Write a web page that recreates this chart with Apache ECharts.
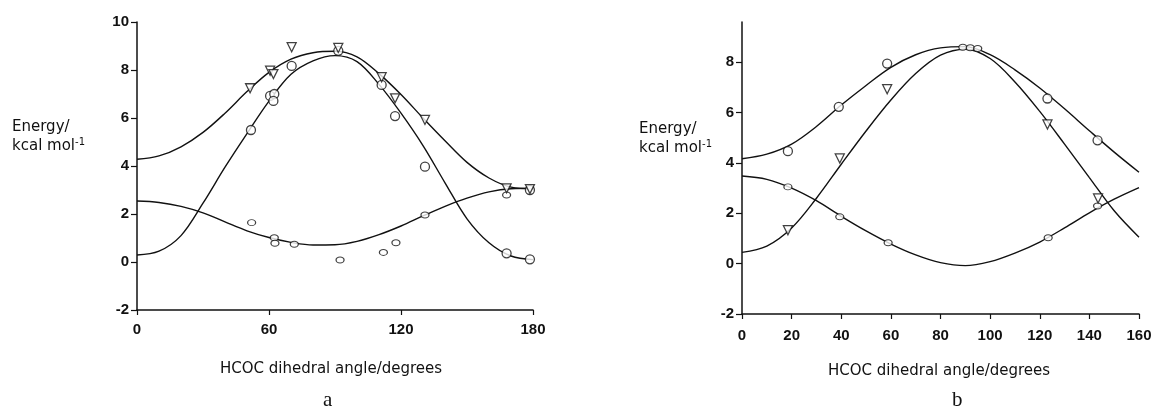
<!DOCTYPE html>
<html>
<head>
<meta charset="utf-8">
<script src="https://cdn.jsdelivr.net/npm/echarts@6/dist/echarts.min.js"></script>
<style>
html,body{margin:0;padding:0;background:#fff;}
#chart{width:1156px;height:414px;}
</style>
</head>
<body>
<div id="chart"></div>
<script>
// ---------- Panel a ----------
const anglesA = [0,10,20,30,40,50,60,70,80,90,100,110,120,130,140,150,160,170,180];
const upperA  = [4.28,4.42,4.8,5.4,6.2,7.1,7.9,8.45,8.72,8.78,8.55,7.85,6.98,6.0,5.05,4.15,3.5,3.12,3.05];
const middleA = [0.29,0.45,1.1,2.45,3.95,5.35,6.7,7.82,8.38,8.6,8.35,7.4,6.2,4.85,3.3,1.8,0.8,0.25,0.1];
const lowerA  = [2.54,2.48,2.32,2.05,1.67,1.3,1.02,0.82,0.71,0.72,0.86,1.14,1.5,1.92,2.32,2.66,2.92,3.05,3.07];
const triA = [[51.4,7.24],[60.5,7.97],[62.0,7.83],[70.3,8.95],[91.5,8.92],[111.2,7.7],[117.3,6.82],[130.9,5.92],[168,3.07],[178.6,3.04]];
const circA = [[51.8,5.5],[60.5,6.92],[62.4,7.0],[62.0,6.71],[70.3,8.17],[91.5,8.8],[111.2,7.38],[117.3,6.08],[130.9,3.97],[168,0.36],[178.6,0.11],[178.6,3.0]];
const smallA = [[52.1,1.64],[62.4,1.01],[62.7,0.78],[71.5,0.74],[92.3,0.08],[112,0.4],[117.7,0.8],[130.9,1.96],[168,2.79]];
const xTicksA = {min:0,max:180,interval:60};

// ---------- Panel b ----------
const anglesB = [0,10,20,30,40,50,60,70,80,90,100,110,120,130,140,150,160];
const upperB  = [4.17,4.35,4.75,5.45,6.3,7.08,7.8,8.3,8.57,8.62,8.3,7.7,6.98,6.15,5.28,4.43,3.63];
const middleB = [0.45,0.7,1.42,2.6,3.95,5.27,6.5,7.55,8.28,8.52,8.15,7.22,6.05,4.75,3.42,2.1,1.05];
const lowerB  = [3.48,3.35,3.0,2.5,1.88,1.3,0.78,0.35,0.04,-0.08,0.08,0.42,0.86,1.42,2.02,2.56,3.02];
const circB = [[18.5,4.47],[39.0,6.23],[58.5,7.95],[123.1,6.56],[143.3,4.9]];
const triB  = [[18.5,1.33],[39.4,4.18],[58.5,6.93],[123.1,5.53],[143.5,2.59]];
const smallB = [[18.5,3.05],[39.4,1.86],[58.9,0.83],[123.4,1.03],[143.3,2.29],[89,8.6],[92,8.58],[95,8.55]];
const xTicksB = {min:0,max:160,interval:20};

const yTicksA = {min:-2,max:10,interval:2};
const yTicksB = {min:-2,max:9.6,interval:2};

const xTitle = 'HCOC dihedral angle/degrees';

const chart = echarts.init(document.getElementById('chart'), null, {renderer:'canvas'});

const pair = (xs, ys) => xs.map((x,i)=>[x, ys[i]]);
const lineS = (xi, yi, data) => ({
  type:'line', xAxisIndex:xi, yAxisIndex:yi, data:data, smooth:0.35, showSymbol:false,
  lineStyle:{color:'#111', width:1.4}, z:2, silent:true
});
const markS = (xi, yi, data, kind) => {
  const o = {type:'scatter', xAxisIndex:xi, yAxisIndex:yi, data:data, z:3, silent:true,
    itemStyle:{color:'#fff', borderColor:'#111', borderWidth:1.3}};
  if (kind==='tri'){ o.symbol='triangle'; o.symbolRotate=180; o.symbolSize=9; }
  else if (kind==='circ'){ o.symbol='circle'; o.symbolSize=9; }
  else { o.symbol='circle'; o.symbolSize=[8,6]; o.itemStyle.borderWidth=1.1; }
  return o;
};

const axisLineStyle = {show:true, onZero:false, lineStyle:{color:'#111', width:1.5}};
const tickLabel = {color:'#111', fontFamily:'"Liberation Sans", Arial, sans-serif', fontWeight:'bold', fontSize:15};

const xAxisCommon = (gi, t, margin) => ({
  type:'value', gridIndex:gi, min:t.min, max:t.max, interval:t.interval,
  axisLine:axisLineStyle, axisTick:{show:true, length:5, lineStyle:{color:'#111', width:1.2}},
  axisLabel:Object.assign({margin:margin}, tickLabel), splitLine:{show:false}
});
const yAxisCommon = (gi, t) => ({
  type:'value', gridIndex:gi, min:t.min, max:t.max, interval:t.interval,
  axisLine:axisLineStyle, axisTick:{show:true, length:6, lineStyle:{color:'#111', width:1.2}},
  axisLabel:Object.assign({margin:8, showMaxLabel: t.max % t.interval === 0,
    formatter:(v)=> (v % t.interval === 0 ? String(v) : '')}, tickLabel),
  splitLine:{show:false}
});

const yName = (left, top, spacing) => ({
  type:'text', left:left, top:top,
  style:{
    text:'Energy/\n{n|kcal mol}{s|-1}',
    font:'15px "DejaVu Sans"', fill:'#111', lineHeight:19, letterSpacing:spacing,
    rich:{
      n:{font:'15px "DejaVu Sans"', fill:'#111', lineHeight:19, letterSpacing:spacing},
      s:{font:'10px "DejaVu Sans"', fill:'#111', verticalAlign:'top', lineHeight:19, padding:[0,0,8,0]}
    }
  }
});

chart.setOption({
  animation:false,
  backgroundColor:'#fff',
  grid:[
    {left:137, right:623, top:22, bottom:104},
    {left:742, right:17, top:22, bottom:100}
  ],
  xAxis:[ xAxisCommon(0, xTicksA, 12), xAxisCommon(1, xTicksB, 14) ],
  yAxis:[ yAxisCommon(0, yTicksA), yAxisCommon(1, yTicksB) ],
  series:[
    lineS(0,0,pair(anglesA, upperA)),
    lineS(0,0,pair(anglesA, middleA)),
    lineS(0,0,pair(anglesA, lowerA)),
    markS(0,0,smallA,'small'),
    markS(0,0,circA,'circ'),
    markS(0,0,triA,'tri'),
    lineS(1,1,pair(anglesB, upperB)),
    lineS(1,1,pair(anglesB, middleB)),
    lineS(1,1,pair(anglesB, lowerB)),
    markS(1,1,smallB,'small'),
    markS(1,1,circB,'circ'),
    markS(1,1,triB,'tri')
  ],
  graphic:[
    yName(12, 118, 2),
    yName(639, 120, 0.3),
    {type:'text', left:220, top:362, style:{text:xTitle, font:'15px "DejaVu Sans"', fill:'#111'}},
    {type:'text', left:828, top:364, style:{text:xTitle, font:'15px "DejaVu Sans"', fill:'#111', letterSpacing:1.4}},
    {type:'text', left:323, top:390, style:{text:'a', font:'21px "Liberation Serif"', fill:'#111'}},
    {type:'text', left:952, top:390, style:{text:'b', font:'21px "Liberation Serif"', fill:'#111'}}
  ]
});
</script>
</body>
</html>
